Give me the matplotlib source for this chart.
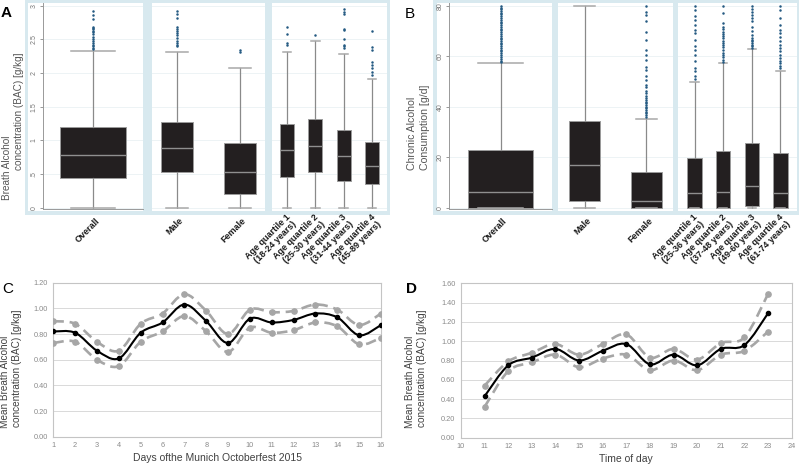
import matplotlib
matplotlib.use('Agg')
import matplotlib.pyplot as plt
from matplotlib.patches import Rectangle, PathPatch
from matplotlib.path import Path
import matplotlib.transforms as mtransforms
import numpy as np

W, H = 799, 466
plt.rcParams['font.family'] = ['Liberation Sans', 'DejaVu Sans']

# ---------------- data ----------------
cat_overall = ['Overall']
cat_sex = ['Male', 'Female']
cat_age_A = ['Age quartile 1\n(18-24 years)', 'Age quartile 2\n(25-30 years)',
             'Age quartile 3\n(31-44 years)', 'Age quartile 4\n(45-89 years)']
cat_age_B = ['Age quartile 1\n(25-36 years)', 'Age quartile 2\n(37-48 years)',
             'Age quartile 3\n(49-60 years)', 'Age quartile 4\n(61-74 years)']

# Panel A: breath alcohol concentration [g/kg]; order Overall, Male, Female, AQ1..AQ4
bac_q1 = [0.44, 0.53, 0.21, 0.46, 0.53, 0.40, 0.35]
bac_med = [0.79, 0.88, 0.53, 0.85, 0.92, 0.77, 0.62]
bac_q3 = [1.20, 1.27, 0.96, 1.24, 1.32, 1.15, 0.98]
bac_lo = [0.00, 0.00, 0.00, 0.00, 0.00, 0.00, 0.00]
bac_hi = [2.33, 2.32, 2.07, 2.32, 2.48, 2.29, 1.91]
bac_out_overall = [2.36, 2.38, 2.40, 2.42, 2.44, 2.47, 2.50, 2.53, 2.58, 2.61, 2.63, 2.65, 2.67, 2.69, 2.81, 2.87, 2.93]
bac_out_male = [2.40, 2.42, 2.45, 2.48, 2.52, 2.56, 2.60, 2.63, 2.66, 2.69, 2.82, 2.88, 2.93]
bac_out_female = [2.31, 2.35]
bac_out_aq1 = [2.42, 2.44, 2.58, 2.69]
bac_out_aq2 = [2.57]
bac_out_aq3 = [2.37, 2.40, 2.42, 2.50, 2.64, 2.66, 2.88, 2.91, 2.95]
bac_out_aq4 = [1.97, 2.02, 2.07, 2.12, 2.17, 2.35, 2.39, 2.63]

# Panel B: chronic alcohol consumption [g/d]
cac_q1 = [0.0, 2.6, 0.0, 0.0, 0.0, 0.8, 0.0]
cac_med = [6.2, 16.9, 2.6, 5.7, 6.1, 8.6, 5.7]
cac_q3 = [22.9, 34.5, 14.0, 19.8, 22.6, 25.5, 21.6]
cac_lo = [0.0, 0.0, 0.0, 0.0, 0.0, 0.0, 0.0]
cac_hi = [57.3, 80.0, 35.1, 50.0, 57.3, 62.8, 54.4]
cac_out_overall = [57.8, 58.4, 59.1, 59.9, 60.6, 61.2, 62.0, 62.7, 63.3, 64.1, 64.8, 65.4, 66.2, 66.9,
                   67.5, 68.3, 69.0, 69.6, 70.4, 71.1, 71.7, 72.5, 73.2, 73.8, 74.6, 75.3, 75.9, 76.7,
                   77.4, 78.0, 78.8, 79.4, 80.0]
cac_out_male = []
cac_out_female = [36.0, 36.7, 37.4, 38.0, 38.7, 39.4, 40.1, 40.7, 41.4, 42.1, 42.8, 43.4, 44.3, 45.4,
                  46.4, 47.8, 48.7, 50.7, 52.3, 54.6, 56.0, 58.6, 60.6, 62.6, 66.5, 69.8, 74.2, 76.5,
                  77.8, 80.0]
cac_out_aq1 = [51.1, 52.1, 54.1, 55.4, 58.1, 60.7, 62.7, 64.1, 66.7, 69.3, 70.6, 72.6, 74.6, 75.9, 78.5, 80.0]
cac_out_aq2 = [57.8, 58.6, 59.7, 60.6, 61.5, 62.6, 63.6, 64.6, 65.5, 66.3, 67.2, 68.1, 69.0, 69.9,
               70.8, 71.8, 73.2, 77.1, 80.0]
cac_out_aq3 = [63.4, 64.1, 64.7, 65.4, 66.0, 66.7, 67.3, 68.6, 70.0, 71.9, 73.9, 75.2, 76.5, 77.8, 79.0, 80.0]
cac_out_aq4 = [55.6, 56.4, 57.3, 58.2, 59.3, 60.6, 62.0, 63.4, 64.7, 66.0, 67.6, 69.2, 70.5, 72.6,
               75.2, 78.5, 80.0]

bac_yticks = [0, 0.5, 1, 1.5, 2, 2.5, 3]
bac_yticklabels = ['0', '.5', '1', '1.5', '2', '2.5', '3']
cac_yticks = [0, 20, 40, 60, 80]
cac_yticklabels = ['0', '20', '40', '60', '80']

# Panel C: mean BAC per day of Oktoberfest with CI
days = list(range(1, 17))
c_mean = [0.82, 0.81, 0.67, 0.61, 0.81, 0.89, 1.03, 0.90, 0.73, 0.92, 0.89, 0.91, 0.96, 0.93, 0.79, 0.87]
c_upper = [0.90, 0.88, 0.74, 0.67, 0.88, 0.96, 1.11, 0.98, 0.80, 0.99, 0.97, 0.98, 1.03, 0.99, 0.87, 0.96]
c_lower = [0.73, 0.74, 0.60, 0.55, 0.74, 0.82, 0.94, 0.82, 0.66, 0.85, 0.81, 0.83, 0.89, 0.86, 0.72, 0.77]

# Panel D: mean BAC per time of day with CI
hours = list(range(11, 24))
d_mean = [0.43, 0.75, 0.83, 0.92, 0.80, 0.90, 0.97, 0.76, 0.86, 0.75, 0.92, 0.96, 1.29]
d_upper = [0.54, 0.79, 0.88, 0.97, 0.86, 0.97, 1.07, 0.83, 0.92, 0.81, 0.98, 1.04, 1.49]
d_lower = [0.32, 0.69, 0.78, 0.86, 0.73, 0.82, 0.86, 0.70, 0.80, 0.70, 0.86, 0.90, 1.10]

# ---------------- styling ----------------
BLUE_BG = '#d8e9ef'
BOX_FACE = '#231f20'
BOX_EDGE = '#9b9b9b'
WHISK = '#8a8a8a'
CAP = '#a8a8a8'
DOT = '#245a82'
GRID_BOX = '#edf3f5'
TXT = '#555555'

fig = plt.figure(figsize=(W / 100, H / 100), dpi=100)


def add_ax(x0, y0, x1, y1):
    return fig.add_axes([x0 / W, 1 - y1 / H, (x1 - x0) / W, (y1 - y0) / H])


def add_rect(x0, y0, x1, y1, color, z=-10):
    fig.add_artist(Rectangle((x0 / W, 1 - y1 / H), (x1 - x0) / W, (y1 - y0) / H,
                             transform=fig.transFigure, facecolor=color, edgecolor='none', zorder=z))


def make_stats(q1, med, q3, lo, hi, fl):
    return [dict(q1=a, med=b, q3=c, whislo=d, whishi=e, fliers=f)
            for a, b, c, d, e, f in zip(q1, med, q3, lo, hi, fl)]


def box_panel(ax, stats, labels, xlim, width, capw, ylim, yticks, yticklabels, first):
    ax.set_facecolor('none')
    pos = list(range(1, len(stats) + 1))
    ax.bxp(stats, positions=pos, widths=width, capwidths=capw, patch_artist=True,
           boxprops=dict(facecolor=BOX_FACE, edgecolor=BOX_EDGE, linewidth=0.7),
           medianprops=dict(color='#8f8f8f', linewidth=1.0),
           whiskerprops=dict(color=WHISK, linewidth=0.9),
           capprops=dict(color=CAP, linewidth=1.1),
           flierprops=dict(marker='o', markersize=1.8, markerfacecolor=DOT,
                           markeredgecolor='none', linestyle='none'))
    ax.set_xlim(*xlim)
    ax.set_ylim(*ylim)
    ax.set_yticks(yticks)
    ax.yaxis.grid(True, color=GRID_BOX, linewidth=0.7)
    ax.set_axisbelow(True)
    ax.set_xticks(pos)
    ax.set_xticklabels(labels, rotation=45, ha='right', va='center', rotation_mode='anchor',
                       fontsize=6.5, fontweight='bold', color='#1a1a1a', linespacing=1.05)
    ax.tick_params(axis='x', length=0, pad=7)
    off = mtransforms.ScaledTranslation(5 / 100, 0, fig.dpi_scale_trans)
    for lab in ax.get_xticklabels():
        lab.set_transform(lab.get_transform() + off)
    for s in ['top', 'right']:
        ax.spines[s].set_visible(False)
    if first:
        ax.set_yticklabels(yticklabels)
        ax.tick_params(axis='y', labelrotation=90, labelsize=5, labelcolor='#777777',
                       length=2.5, width=0.6, color='#888888', pad=1.5)
        for lab in ax.get_yticklabels():
            lab.set_va('center')
        ax.spines['left'].set_color('#999999')
        ax.spines['left'].set_linewidth(0.7)
        ax.spines['bottom'].set_color('#999999')
        ax.spines['bottom'].set_linewidth(0.7)
    else:
        ax.tick_params(axis='y', left=False, labelleft=False)
        ax.spines['left'].set_visible(False)
        ax.spines['bottom'].set_visible(False)


# ---------------- Panel A ----------------
add_rect(25, 0, 390, 215, BLUE_BG)
add_rect(28, 3, 143, 211, 'white', -9)
add_rect(152, 3, 265, 211, 'white', -9)
add_rect(272, 3, 387, 211, 'white', -9)

bac_stats = make_stats(bac_q1, bac_med, bac_q3, bac_lo, bac_hi,
                       [bac_out_overall, bac_out_male, bac_out_female,
                        bac_out_aq1, bac_out_aq2, bac_out_aq3, bac_out_aq4])
ylimA = ((207.7 - 209.5) / 67.3, (207.7 - 3) / 67.3)
axA1 = add_ax(43, 3, 143, 209.5)
box_panel(axA1, bac_stats[0:1], cat_overall, (0.5, 1.5), 0.66, 0.44, ylimA,
          bac_yticks, bac_yticklabels, True)
axA2 = add_ax(152, 3, 265, 209.5)
box_panel(axA2, bac_stats[1:3], cat_sex, (0.6, 2.4), 0.5, 0.34, ylimA,
          bac_yticks, bac_yticklabels, False)
axA3 = add_ax(272, 3, 387, 209.5)
box_panel(axA3, bac_stats[3:7], cat_age_A, (0.47, 4.53), 0.5, 0.3, ylimA,
          bac_yticks, bac_yticklabels, False)

fig.text(1 / W, 1 - 13 / H, 'A', fontsize=11, fontweight='bold', va='center', ha='left')
fig.text(7 / W, 1 - 200 / H, 'Breath Alcohol', rotation=90, rotation_mode='anchor',
         ha='left', va='center', fontsize=7.2, color=TXT)
fig.text(19 / W, 1 - 170 / H, 'concentration (BAC) [g/kg]', rotation=90, rotation_mode='anchor',
         ha='left', va='center', fontsize=7.2, color=TXT)

# ---------------- Panel B ----------------
add_rect(433, 0, 799, 215, BLUE_BG)
add_rect(437, 3, 552, 211, 'white', -9)
add_rect(558, 3, 673, 211, 'white', -9)
add_rect(678, 3, 797, 211, 'white', -9)

cac_stats = make_stats(cac_q1, cac_med, cac_q3, cac_lo, cac_hi,
                       [cac_out_overall, cac_out_male, cac_out_female,
                        cac_out_aq1, cac_out_aq2, cac_out_aq3, cac_out_aq4])
ylimB = ((207.7 - 209.5) / 2.52, (207.7 - 3) / 2.52)
axB1 = add_ax(449, 3, 552, 209.5)
box_panel(axB1, cac_stats[0:1], cat_overall, (0.5, 1.5), 0.64, 0.44, ylimB,
          cac_yticks, cac_yticklabels, True)
axB2 = add_ax(558, 3, 673, 209.5)
box_panel(axB2, cac_stats[1:3], cat_sex, (0.57, 2.43), 0.5, 0.33, ylimB,
          cac_yticks, cac_yticklabels, False)
axB3 = add_ax(678, 3, 797, 209.5)
box_panel(axB3, cac_stats[3:7], cat_age_B, (0.42, 4.58), 0.5, 0.3, ylimB,
          cac_yticks, cac_yticklabels, False)

fig.text(405 / W, 1 - 14 / H, 'B', fontsize=11, fontweight='normal', va='center', ha='left')
fig.text(412 / W, 1 - 170 / H, 'Chronic Alcohol', rotation=90, rotation_mode='anchor',
         ha='left', va='center', fontsize=7.6, color=TXT)
fig.text(425 / W, 1 - 170 / H, 'Consumption [g/d]', rotation=90, rotation_mode='anchor',
         ha='left', va='center', fontsize=7.6, color=TXT)


# ---------------- Panels C, D ----------------
def smooth_line(ax, x, y, **kw):
    pts = np.column_stack([x, y]).astype(float)
    n = len(pts)
    verts = [pts[0]]
    codes = [Path.MOVETO]
    for i in range(n - 1):
        p0 = pts[i - 1] if i > 0 else pts[i]
        p1, p2 = pts[i], pts[i + 1]
        p3 = pts[i + 2] if i + 2 < n else pts[i + 1]
        verts += [p1 + (p2 - p0) / 6, p2 - (p3 - p1) / 6, p2]
        codes += [Path.CURVE4] * 3
    ax.add_patch(PathPatch(Path(verts, codes), fill=False, **kw))


def line_panel(ax, x, mean, upper, lower, xlim, ylim, xticks, yticks):
    for ser in (upper, lower):
        smooth_line(ax, x, ser, edgecolor='#a6a6a6', linewidth=1.9, linestyle=(0, (4, 2.2)),
                    capstyle='butt', zorder=3)
        ax.plot(x, ser, linestyle='none', marker='o', markersize=3.8, color='#a6a6a6', zorder=3)
    smooth_line(ax, x, mean, edgecolor='black', linewidth=1.5, zorder=4)
    ax.plot(x, mean, linestyle='none', marker='o', markersize=3.0, color='black', zorder=4)
    ax.set_xlim(*xlim)
    ax.set_ylim(*ylim)
    ax.set_xticks(xticks)
    ax.set_yticks(yticks)
    ax.set_yticklabels(['%.2f' % v for v in yticks])
    ax.yaxis.grid(True, color='#d9d9d9', linewidth=0.7)
    ax.set_axisbelow(True)
    ax.tick_params(length=0, labelsize=5.3, labelcolor='#8a8a8a', pad=4)
    for s in ax.spines.values():
        s.set_color('#c4c4c4')
        s.set_linewidth(0.8)


axC = add_ax(53.3, 282.7, 381, 436.7)
line_panel(axC, days, c_mean, c_upper, c_lower, (1, 16), (0, 1.2), days,
           [0, 0.2, 0.4, 0.6, 0.8, 1.0, 1.2])
axC.set_xlabel('Days ofthe Munich Octoberfest 2015', fontsize=7.5, color='#404040', labelpad=3)
fig.text(2 / W, 1 - 289 / H, 'C', fontsize=11, va='center', ha='left')
fig.text(5 / W, 1 - 428 / H, 'Mean Breath Alcohol', rotation=90, rotation_mode='anchor',
         ha='left', va='center', fontsize=7.2, color='#404040')
fig.text(17 / W, 1 - 427 / H, 'concentration (BAC) [g/kg]', rotation=90, rotation_mode='anchor',
         ha='left', va='center', fontsize=7.2, color='#404040')

axD = add_ax(461, 283.3, 791.7, 437.7)
line_panel(axD, hours, d_mean, d_upper, d_lower, (10, 24), (0, 1.6), list(range(10, 25)),
           [0, 0.2, 0.4, 0.6, 0.8, 1.0, 1.2, 1.4, 1.6])
axD.set_xlabel('Time of day', fontsize=7.5, color='#404040', labelpad=3)
fig.text(406 / W, 1 - 289 / H, 'D', fontsize=11, fontweight='bold', va='center', ha='left')
fig.text(410 / W, 1 - 428 / H, 'Mean Breath Alcohol', rotation=90, rotation_mode='anchor',
         ha='left', va='center', fontsize=7.2, color='#404040')
fig.text(422 / W, 1 - 427 / H, 'concentration (BAC) [g/kg]', rotation=90, rotation_mode='anchor',
         ha='left', va='center', fontsize=7.2, color='#404040')

fig.savefig('out.png', dpi=100)
